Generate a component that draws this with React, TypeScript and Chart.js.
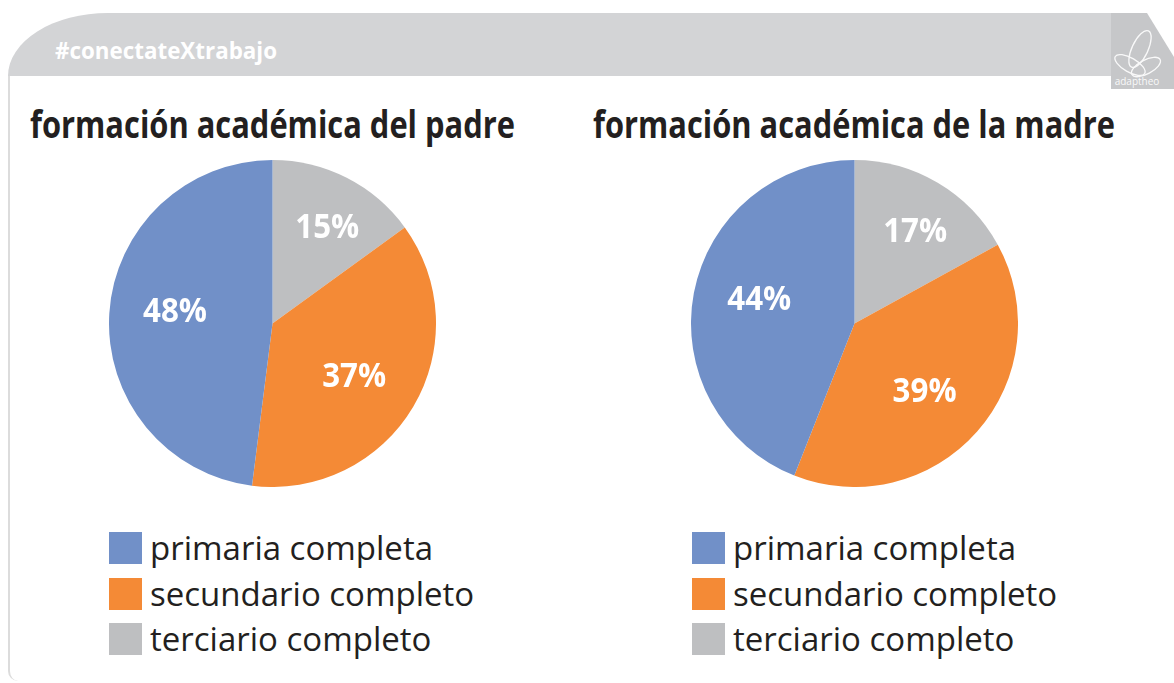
import React, { useEffect, useRef } from "react";
import { Chart, registerables } from "chart.js";

Chart.register(...registerables);

// ---- data ----
const categories = ["primaria completa", "secundario completo", "terciario completo"];
const padreValues = [48, 37, 15];
const madreValues = [44, 39, 17];
const sliceColors = ["#7190c8", "#f48a36", "#bebfc1"];
const chartTitles = ["formación académica del padre", "formación académica de la madre"];
const headerTag = "#conectateXtrabajo";
const logoText = "adaptheo";

const FONT = "'Open Sans', 'Noto Sans', sans-serif";

const pctLabels = {
  id: "pctLabels",
  afterDatasetsDraw(chart: any) {
    const ctx = chart.ctx;
    const meta = chart.getDatasetMeta(0);
    const data = chart.data.datasets[0].data as number[];
    meta.data.forEach((arc: any, i: number) => {
      const p = arc.getProps(["x", "y", "startAngle", "endAngle", "outerRadius"], true);
      const mid = (p.startAngle + p.endAngle) / 2 + (3 * Math.PI) / 180;
      const r = p.outerRadius * (data[i] < 25 ? 0.67 : 0.6);
      const px = p.x + Math.cos(mid) * r;
      const py = p.y + Math.sin(mid) * r;
      ctx.save();
      ctx.translate(px, py);
      ctx.scale(0.92, 1);
      ctx.font = `700 34px ${FONT}`;
      ctx.fillStyle = "#ffffff";
      ctx.textAlign = "center";
      ctx.textBaseline = "middle";
      ctx.fillText(`${data[i]}%`, 0, 0);
      ctx.restore();
    });
  },
};

function PieChart({ values, left, top, size }: { values: number[]; left: number; top: number; size: number }) {
  const ref = useRef<HTMLCanvasElement | null>(null);
  useEffect(() => {
    if (!ref.current) return;
    // drawn clockwise from the top: terciario, secundario, primaria
    const order = [2, 1, 0];
    const chart = new Chart(ref.current, {
      type: "pie",
      data: {
        labels: order.map((i) => categories[i]),
        datasets: [
          {
            data: order.map((i) => values[i]),
            backgroundColor: order.map((i) => sliceColors[i]),
            borderWidth: 0,
          },
        ],
      },
      options: {
        responsive: false,
        animation: false,
        layout: { padding: 0 },
        plugins: {
          legend: { display: false },
          tooltip: { enabled: false },
          title: { display: false },
        },
      },
      plugins: [pctLabels],
    });
    return () => chart.destroy();
  }, [values]);
  return (
    <canvas
      ref={ref}
      width={size}
      height={size}
      style={{ position: "absolute", left, top, width: size, height: size }}
    />
  );
}

const measureCtx = typeof document !== "undefined" ? document.createElement("canvas").getContext("2d") : null;

function FitText({
  text,
  left,
  top,
  width,
  size,
  weight,
  color,
}: {
  text: string;
  left: number;
  top: number;
  width: number;
  size: number;
  weight: number;
  color: string;
}) {
  let scale = 1;
  if (measureCtx) {
    measureCtx.font = `${weight} ${size}px ${FONT}`;
    const w = measureCtx.measureText(text).width;
    if (w > 0) scale = width / w;
  }
  return (
    <div
      style={{
        position: "absolute",
        left,
        top,
        whiteSpace: "nowrap",
        fontFamily: FONT,
        fontWeight: weight,
        fontSize: size,
        lineHeight: 1,
        color,
        transform: `scaleX(${scale})`,
        transformOrigin: "left top",
      }}
    >
      {text}
    </div>
  );
}

function Legend({ left, top }: { left: number; top: number }) {
  return (
    <div style={{ position: "absolute", left, top }}>
      {categories.map((c, i) => (
        <div
          key={c}
          style={{ display: "flex", alignItems: "flex-start", height: 32, marginBottom: 13.5 }}
        >
          <div style={{ width: 33, height: 32, background: sliceColors[i], flex: "none" }} />
          <div
            style={{
              marginLeft: 8,
              fontFamily: FONT,
              fontSize: 33,
              lineHeight: "32px",
              color: "#231f20",
              whiteSpace: "nowrap",
            }}
          >
            {c}
          </div>
        </div>
      ))}
    </div>
  );
}

function Logo() {
  return (
    <svg
      width={63}
      height={76}
      style={{ position: "absolute", left: 1111, top: 13 }}
      viewBox="0 0 63 76"
    >
      <polygon points="0,0 36,0 63,44 63,76 0,76" fill="#c6c7c9" />
      <g fill="none" stroke="#ffffff" strokeWidth={1.3} opacity={0.9}>
        <ellipse cx={29} cy={36} rx={8} ry={20} transform="rotate(25 29 36)" />
        <ellipse cx={19} cy={52} rx={7} ry={17} transform="rotate(-60 19 52)" />
        <ellipse cx={35} cy={54} rx={7} ry={16} transform="rotate(62 35 54)" />
      </g>
      <text x={26} y={72} fontSize={10} fill="#ffffff" opacity={0.9} textAnchor="middle" fontFamily={FONT}>
        {logoText}
      </text>
    </svg>
  );
}

export default function App() {
  return (
    <div
      style={{
        position: "absolute",
        left: 0,
        top: 0,
        width: 1174,
        height: 683,
        overflow: "hidden",
        background: "#ffffff",
      }}
    >
      {/* card body */}
      <div
        style={{
          position: "absolute",
          left: 8,
          top: 76,
          width: 1200,
          height: 605,
          borderLeft: "2px solid #dcdcdc",
          borderBottomLeftRadius: 10,
          boxSizing: "border-box",
        }}
      />
      {/* header band */}
      <div
        style={{
          position: "absolute",
          left: 8,
          top: 13,
          width: 1110,
          height: 63,
          background: "#d3d4d6",
          borderTopLeftRadius: "100px 63px",
        }}
      />
      <FitText text={headerTag} left={55} top={38} width={222} size={24} weight={700} color="#ffffff" />
      <Logo />

      <FitText text={chartTitles[0]} left={30} top={105} width={485} size={37} weight={700} color="#231f20" />
      <FitText text={chartTitles[1]} left={593} top={105} width={522} size={37} weight={700} color="#231f20" />

      <PieChart values={padreValues} left={109} top={160} size={327} />
      <PieChart values={madreValues} left={691} top={160} size={327} />

      <Legend left={109} top={532} />
      <Legend left={692} top={532} />
    </div>
  );
}
